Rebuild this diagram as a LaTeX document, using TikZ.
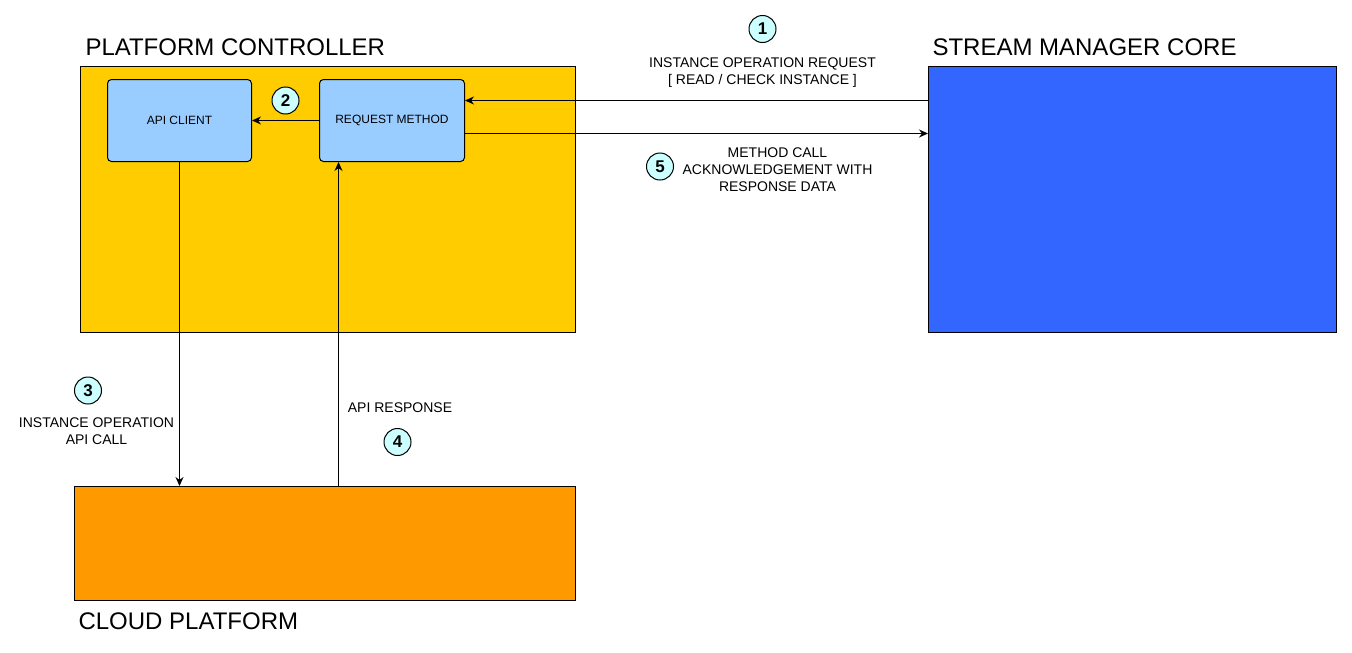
\documentclass[tikz,border=0pt]{standalone}
\usepackage{fontspec}
\setmainfont{Liberation Sans}
\usepackage{tikz}
\usetikzlibrary{
    arrows.meta,
    calc,
    positioning
}

\definecolor{ctrlyellow}{HTML}{FFCC00}
\definecolor{coreblue}{HTML}{3366FF}
\definecolor{cloudorange}{HTML}{FF9900}
\definecolor{methodblue}{HTML}{99CCFF}
\definecolor{stepcyan}{HTML}{CCFFFF}

\tikzset{
    block/.style={draw, line width=1pt, anchor=north west, inner sep=0pt},
    method/.style={draw, line width=1pt, rounded corners=4pt, fill=methodblue, anchor=north west,
        inner sep=0pt, font=\fontsize{12}{14}\selectfont},
    title/.style={anchor=base west, inner sep=0pt, font=\fontsize{24}{28}\selectfont},
    note/.style={align=center, inner sep=0pt, font=\fontsize{14}{17}\selectfont},
    stepnum/.style={circle, draw, line width=1pt, fill=stepcyan, minimum size=27pt, inner sep=0pt,
        font=\bfseries\fontsize{17}{17}\selectfont}
}

\begin{document}
\begin{tikzpicture}[x=1pt, y=-1pt, line width=1pt, >={Stealth[length=9pt, width=8pt, inset=3pt]}]
    \useasboundingbox (0,0) rectangle (1352,653);

    % boxes
    \node[block, fill=ctrlyellow, minimum width=495pt, minimum height=266pt] (pc) at (80,66) {};
    \node[block, fill=coreblue, minimum width=408pt, minimum height=266pt] (sm) at (928,66) {};
    \node[block, fill=cloudorange, minimum width=501pt, minimum height=114pt] (cp) at (74,486) {};
    \node[method, minimum width=144pt, minimum height=82pt] (ac) at (107,79) {API CLIENT};
    \node[method, minimum width=145pt, minimum height=82pt] (rm) at (319,79) {REQUEST METHOD};

    % titles
    \node[title] (pctitle) at (85,55) {PLATFORM CONTROLLER};
    \node[title] (smtitle) at (932,55) {STREAM MANAGER CORE};
    \node[title] (cptitle) at (78,629) {CLOUD PLATFORM};

    % step numbers
    \node[stepnum] (n1) at (762.5,29) {1};
    \node[stepnum] (n2) at (285.5,100.5) {2};
    \node[stepnum] (n3) at (88,390.5) {3};
    \node[stepnum] (n4) at (397.5,442) {4};
    \node[stepnum] (n5) at (660,166.5) {5};

    % labels
    \node[note] (reqtext) at (762.5,72.5) {INSTANCE OPERATION REQUEST\\{[} READ / CHECK INSTANCE {]}};
    \node[note] (acktext) at (777.5,169.5) {METHOD CALL\\ACKNOWLEDGEMENT WITH\\RESPONSE DATA};
    \node[note] (calltext) at (96.5,431.5) {INSTANCE OPERATION\\API CALL};
    \node[note] (resptext) at (400,408) {API RESPONSE};

    % connectors
    \coordinate (rmin) at ([yshift=20pt]rm.east);
    \coordinate (rmout) at ([yshift=-13pt]rm.east);
    \coordinate (rmbot) at ([xshift=-53.5pt]rm.south);
    \draw
    (sm.west |- rmin) edge[->] (rmin)
    (rm.west) edge[->] (ac.east)
    (ac.south) edge[->] (ac.south |- cp.north)
    (rmbot |- cp.north) edge[->] (rmbot)
    (rmout) edge[->] (sm.west |- rmout);
\end{tikzpicture}
\end{document}
